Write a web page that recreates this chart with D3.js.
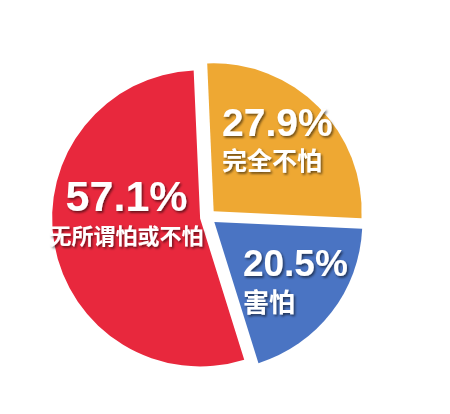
<!DOCTYPE html>
<html>
<head>
<meta charset="utf-8">
<script src="https://cdn.jsdelivr.net/npm/d3@7"></script>
<style>
  body { margin: 0; background: #fff; }
  svg { display: block; }
</style>
</head>
<body>
<svg id="chart" width="450" height="414"></svg>
<script>
// data
var categories = ["完全不怕", "害怕", "无所谓怕或不怕"];
var percents = [27.9, 20.5, 57.1];
var colors = ["#EEA833", "#4A74C3", "#E8283D"];

var width = 450, height = 414;
var cx = 208, cy = 217, radius = 148, explode = 8;

var svg = d3.select("#chart");
svg.append("rect").attr("width", width).attr("height", height).attr("fill", "#fff");

// text shadow
var defs = svg.append("defs");
defs.append("filter")
    .attr("id", "shadow")
    .attr("x", "-20%").attr("y", "-20%")
    .attr("width", "140%").attr("height", "140%")
  .append("feDropShadow")
    .attr("dx", 1.5).attr("dy", 1.8)
    .attr("stdDeviation", 1.2)
    .attr("flood-color", "#000")
    .attr("flood-opacity", 0.55);

var pie = d3.pie()
    .sort(null)
    .startAngle(-2.5 * Math.PI / 180)
    .endAngle(357.5 * Math.PI / 180)
    .value(function(d) { return d; });

var arcs = pie(percents);

var arc = d3.arc().innerRadius(0).outerRadius(radius);

var g = svg.append("g").attr("transform", "translate(" + cx + "," + cy + ")");

function offset(d, r) {
    var a = (d.startAngle + d.endAngle) / 2;
    return [Math.sin(a) * r, -Math.cos(a) * r];
}

var slices = g.selectAll("g.slice")
    .data(arcs)
    .enter().append("g")
    .attr("class", "slice")
    .attr("transform", function(d) {
        var o = offset(d, explode);
        return "translate(" + o[0] + "," + o[1] + ")";
    });

slices.append("path")
    .attr("d", arc)
    .attr("fill", function(d, i) { return colors[i]; });

// labels: placed from the slice centroid, nudged a bit
var labelRadius = 98;
var nudge = [[-9, -6], [3, -6], [23, -24]];
var numSize = [39, 37, 43];
var nameSize = [25, 26, 22];
var lineGap = [34, 36, 33];

var labels = slices.append("g")
    .attr("filter", "url(#shadow)")
    .attr("transform", function(d, i) {
        var o = offset(d, labelRadius);
        return "translate(" + (o[0] + nudge[i][0]) + "," + (o[1] + nudge[i][1]) + ")";
    });

labels.append("text")
    .attr("text-anchor", function(d, i) { return i === 2 ? "middle" : "start"; })
    .attr("x", function(d, i) { return i === 2 ? 0 : -52; })
    .attr("y", 0)
    .attr("fill", "#fff")
    .attr("font-family", "'Liberation Sans', Arial, sans-serif")
    .attr("font-weight", "bold")
    .attr("font-size", function(d, i) { return numSize[i] + "px"; })
    .text(function(d, i) { return d3.format(".1f")(percents[i]) + "%"; });

labels.append("text")
    .attr("text-anchor", function(d, i) { return i === 2 ? "middle" : "start"; })
    .attr("x", function(d, i) { return i === 2 ? 0 : -52; })
    .attr("y", function(d, i) { return lineGap[i]; })
    .attr("fill", "#fff")
    .attr("font-family", "'Noto Sans CJK SC', sans-serif")
    .attr("font-weight", "bold")
    .attr("font-size", function(d, i) { return nameSize[i] + "px"; })
    .text(function(d, i) { return categories[i]; });
</script>
</body>
</html>
